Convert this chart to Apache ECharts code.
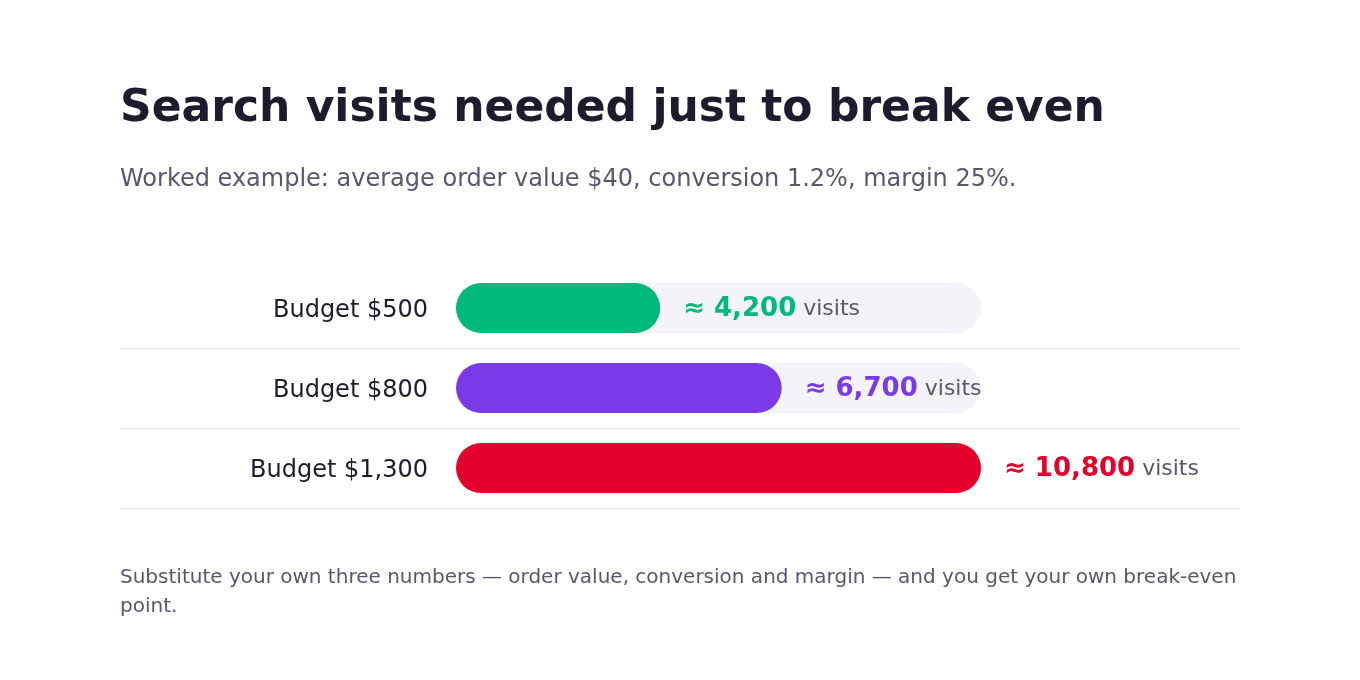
<!DOCTYPE html>
<html><head><meta charset="utf-8">
<script src="https://cdn.jsdelivr.net/npm/echarts@6/dist/echarts.min.js"></script>
<style>html,body{margin:0;padding:0;background:#fff}#c{width:1360px;height:680px}</style>
</head><body><div id="c"></div>
<script>
const categories = ['Budget $500', 'Budget $800', 'Budget $1,300'];
const visits = [4200, 6700, 10800];
const barColors = ['#00b87a', '#7a3ae8', '#e4002b'];
const titleText = 'Search visits needed just to break even';
const subtitleText = 'Worked example: average order value $40, conversion 1.2%, margin 25%.';
const footerText = 'Substitute your own three numbers — order value, conversion and margin — and you get your own break-even point.';

const FONT = '"DejaVu Sans", sans-serif';
const chart = echarts.init(document.getElementById('c'), null, {renderer: 'canvas'});
const fmt = v => v.toLocaleString('en-US');

chart.setOption({
  backgroundColor: '#ffffff',
  animation: false,
  textStyle: {fontFamily: FONT},
  grid: {left: 456, right: 379, top: 268, height: 240, containLabel: false},
  xAxis: {type: 'value', min: 0, max: Math.max(...visits), show: false},
  yAxis: {
    type: 'category', data: categories, inverse: true,
    axisLine: {show: false}, axisTick: {show: false}, splitLine: {show: false},
    axisLabel: {
      margin: 28, fontSize: 24, color: '#1e1b2e', fontFamily: FONT,
      formatter: v => '{a|' + v + '}',
      rich: {a: {fontSize: 24, color: '#1e1b2e', fontFamily: FONT, padding: [5, 0, 0, 0]}}
    }
  },
  series: [{
    type: 'bar',
    data: visits.map((v, i) => ({value: v, itemStyle: {color: barColors[i]},
      label: {rich: {v: {color: barColors[i]}}}})),
    barWidth: 50,
    itemStyle: {borderRadius: 25},
    showBackground: true,
    backgroundStyle: {color: '#f4f3fa', borderRadius: 25},
    label: {
      show: true, position: 'right', distance: 23, offset: [0, 1],
      fontSize: 22, fontFamily: FONT, color: '#5a5670',
      formatter: p => '{v|≈ ' + fmt(p.value) + '} {u|visits}',
      rich: {
        v: {fontSize: 26, fontWeight: 'bold', fontFamily: FONT},
        u: {fontSize: 22, color: '#5a5670', fontFamily: FONT}
      }
    }
  }],
  graphic: [
    {type: 'text', left: 120, top: 88, style: {text: titleText, font: 'bold 44px ' + FONT, fill: '#1e1b2e'}},
    {type: 'text', left: 120, top: 168, style: {text: subtitleText, font: '24px ' + FONT, fill: '#5a5670'}},
    {type: 'line', shape: {x1: 120, y1: 348.5, x2: 1240, y2: 348.5}, style: {stroke: '#e6e4f0', lineWidth: 1}},
    {type: 'line', shape: {x1: 120, y1: 428.5, x2: 1240, y2: 428.5}, style: {stroke: '#e6e4f0', lineWidth: 1}},
    {type: 'line', shape: {x1: 120, y1: 508.5, x2: 1240, y2: 508.5}, style: {stroke: '#e6e4f0', lineWidth: 1}},
    {type: 'text', left: 120, top: 563, style: {text: footerText, font: '20px ' + FONT, fill: '#5a5670',
      width: 1125, overflow: 'break', lineHeight: 29}}
  ]
});
</script></body></html>
